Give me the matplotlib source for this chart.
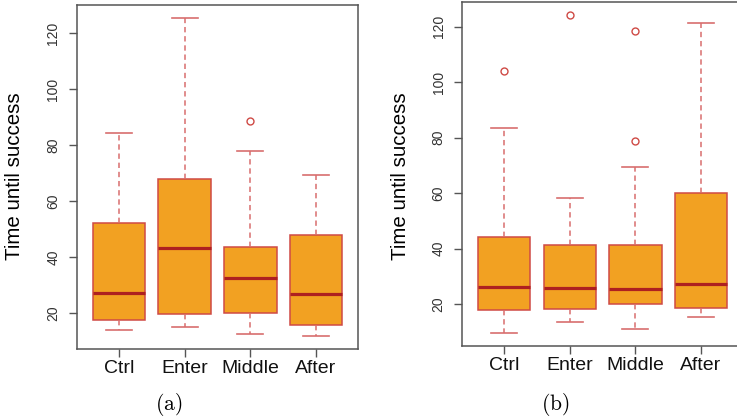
import numpy as np
import matplotlib
matplotlib.use("Agg")
import matplotlib.pyplot as plt

plt.rcParams['mathtext.fontset'] = 'cm'
plt.rcParams['font.family'] = ['Liberation Sans', 'DejaVu Sans']

groups = ['Ctrl', 'Enter', 'Middle', 'After']

# panel (a): whisker low, Q1, median, Q3, whisker high, outliers
a_low = [13.9, 15.0, 12.7, 12.0]
a_q1 = [17.6, 19.9, 20.2, 15.7]
a_med = [27.4, 43.3, 32.7, 26.8]
a_q3 = [52.1, 67.9, 43.6, 47.9]
a_high = [84.5, 125.6, 78.0, 69.5]
a_out = [[], [], [88.7], []]

# panel (b)
b_low = [9.5, 13.4, 11.0, 15.4]
b_q1 = [17.7, 18.3, 20.0, 18.7]
b_med = [26.2, 25.9, 25.3, 27.2]
b_q3 = [44.0, 41.3, 41.3, 59.9]
b_high = [83.5, 58.2, 69.5, 121.2]
b_out = [[104.1], [124.2], [118.6, 78.7], []]

yticks = [20, 40, 60, 80, 100, 120]

fill = '#F2A122'
edge = '#CF4A45'
whisk = '#D86E6E'
med_col = '#AE2020'
frame_col = '#555555'


def make_stats(low, q1, med, q3, high, out):
    stats = []
    for i in range(len(low)):
        stats.append(dict(whislo=low[i], q1=q1[i], med=med[i], q3=q3[i],
                          whishi=high[i], fliers=out[i], label=groups[i]))
    return stats


def draw(ax, stats, ylim):
    ax.bxp(stats, positions=[1, 2, 3, 4], widths=0.8, patch_artist=True,
           capwidths=0.4,
           boxprops=dict(facecolor=fill, edgecolor=edge, linewidth=1.1),
           medianprops=dict(color=med_col, linewidth=2.3, solid_capstyle='butt'),
           whiskerprops=dict(color=whisk, linewidth=1.1, linestyle=(0, (3.5, 2.5))),
           capprops=dict(color=whisk, linewidth=1.2),
           flierprops=dict(marker='o', markerfacecolor='none', markeredgecolor=edge,
                           markersize=5, markeredgewidth=1.0))
    ax.set_xlim(0.36, 4.64)
    ax.set_ylim(*ylim)
    ax.set_yticks(yticks)
    ax.set_yticklabels([str(t) for t in yticks], rotation=90, va='center')
    ax.tick_params(axis='y', length=6, width=1, color=frame_col, labelcolor='#333333',
                   labelsize=10, pad=6)
    ax.tick_params(axis='x', length=6, width=1, color=frame_col, labelcolor='#111111',
                   labelsize=14, pad=2)
    for s in ax.spines.values():
        s.set_color(frame_col)
        s.set_linewidth(1.1)


W, H = 737, 418
fig = plt.figure(figsize=(W / 100, H / 100), dpi=100)

ax1 = fig.add_axes([77 / W, 1 - 349 / H, 281 / W, 344 / H])
draw(ax1, make_stats(a_low, a_q1, a_med, a_q3, a_high, a_out), (7.25, 130.1))

ax2 = fig.add_axes([462.3 / W, 1 - 346 / H, 280.5 / W, 344.3 / H])
draw(ax2, make_stats(b_low, b_q1, b_med, b_q3, b_high, b_out), (4.86, 129.0))

fig.text(15 / W, 1 - 176 / H, 'Time until success', rotation=90,
         ha='center', va='center', fontsize=14.8)
fig.text(400.5 / W, 1 - 176 / H, 'Time until success', rotation=90,
         ha='center', va='center', fontsize=14.8)

fig.text(169 / W, 1 - 404 / H, r'$\mathrm{(a)}$', ha='center', va='center', fontsize=15.5)
fig.text(555 / W, 1 - 404 / H, r'$\mathrm{(b)}$', ha='center', va='center', fontsize=15.5)

fig.savefig('out.png', dpi=100)
